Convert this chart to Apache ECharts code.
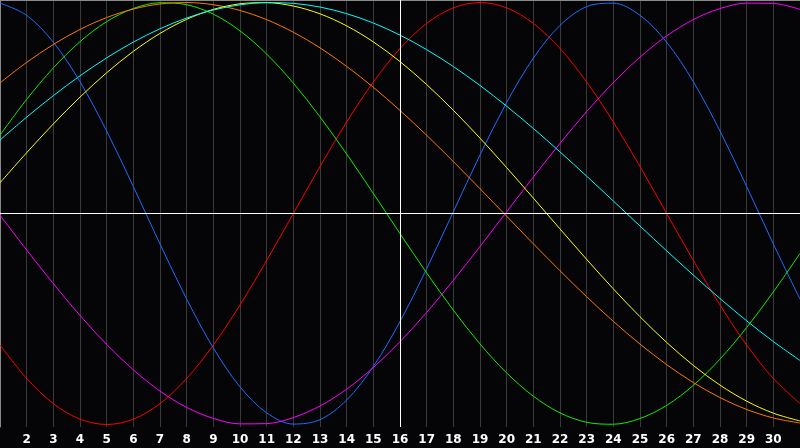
<!DOCTYPE html>
<html>
<head>
<meta charset="utf-8">
<script src="https://cdn.jsdelivr.net/npm/echarts@6/dist/echarts.min.js"></script>
<style>
html,body{margin:0;padding:0;background:#050508;}
#c{width:800px;height:448px;}
</style>
</head>
<body>
<div id="c"></div>
<script>
const days = [1,2,3,4,5,6,7,8,9,10,11,12,13,14,15,16,17,18,19,20,21,22,23,24,25,26,27,28,29,30,31];
const tickLabels = ['', '2','3','4','5','6','7','8','9','10','11','12','13','14','15','16','17','18','19','20','21','22','23','24','25','26','27','28','29','30',''];

const red = [-0.6235,-0.7818,-0.9010,-0.9749,-1.0000,-0.9749,-0.9010,-0.7818,-0.6235,-0.4339,-0.2225,0.0000,0.2225,0.4339,0.6235,0.7818,0.9010,0.9749,1.0000,0.9749,0.9010,0.7818,0.6235,0.4339,0.2225,0.0000,-0.2225,-0.4339,-0.6235,-0.7818,-0.9010];
const blue = [0.9971,0.9395,0.8121,0.6247,0.3909,0.1279,-0.1444,-0.4059,-0.6374,-0.8217,-0.9450,-0.9982,-0.9774,-0.8841,-0.7252,-0.5125,-0.2619,0.0082,0.2777,0.5265,0.7363,0.8917,0.9807,0.9971,0.9395,0.8121,0.6247,0.3909,0.1279,-0.1444,-0.4059];
const magenta = [-0.0082,-0.1728,-0.3325,-0.4831,-0.6207,-0.7412,-0.8417,-0.9190,-0.9714,-0.9972,-0.9959,-0.9673,-0.9125,-0.8327,-0.7299,-0.6077,-0.4687,-0.3169,-0.1564,0.0082,0.1728,0.3325,0.4831,0.6207,0.7412,0.8417,0.9190,0.9714,0.9972,0.9959,0.9673];
const green = [0.3717,0.5406,0.6901,0.8146,0.9096,0.9718,0.9989,0.9898,0.9450,0.8660,0.7557,0.6182,0.4582,0.2817,0.0951,-0.0951,-0.2817,-0.4582,-0.6182,-0.7557,-0.8660,-0.9450,-0.9898,-0.9989,-0.9718,-0.9096,-0.8146,-0.6901,-0.5406,-0.3717,-0.1893];
const orange = [0.6191,0.7163,0.8013,0.8725,0.9288,0.9692,0.9931,0.9999,0.9897,0.9625,0.9188,0.8594,0.7853,0.6972,0.5983,0.4886,0.3706,0.2462,0.1175,-0.0131,-0.1435,-0.2714,-0.3947,-0.5113,-0.6191,-0.7163,-0.8013,-0.8725,-0.9288,-0.9692,-0.9931];
const yellow = [0.1456,0.2881,0.4245,0.5517,0.6672,0.7686,0.8536,0.9204,0.9675,0.9940,0.9993,0.9834,0.9465,0.8894,0.8135,0.7201,0.6111,0.4894,0.3572,0.2174,0.0730,-0.0730,-0.2174,-0.3572,-0.4894,-0.6111,-0.7201,-0.8135,-0.8894,-0.9465,-0.9834];
const cyan = [0.3482,0.4566,0.5586,0.6527,0.7378,0.8126,0.8757,0.9267,0.9646,0.9890,0.9996,0.9961,0.9786,0.9473,0.9028,0.8457,0.7767,0.6966,0.6069,0.5085,0.4031,0.2920,0.1769,0.0593,-0.0593,-0.1769,-0.2920,-0.4031,-0.5085,-0.6069,-0.6966];

const seriesDefs = [
  {name:'red', values: red, color:'#ff0000'},
  {name:'blue', values: blue, color:'#1e6eff'},
  {name:'magenta', values: magenta, color:'#ff00ff'},
  {name:'green', values: green, color:'#11ee00'},
  {name:'orange', values: orange, color:'#ff7700'},
  {name:'yellow', values: yellow, color:'#ffff00'},
  {name:'cyan', values: cyan, color:'#00ffff'}
];

const chart = echarts.init(document.getElementById('c'), null, {renderer:'canvas'});
const series = seriesDefs.map(s => ({
  name: s.name,
  type: 'line',
  xAxisIndex: 0,
  data: days.map((d,i) => [d, s.values[i]]),
  smooth: 0.33,
  symbol: 'none',
  lineStyle: {color: s.color, width: 1},
  z: 3
}));
series.unshift({
  type: 'line',
  data: [],
  xAxisIndex: 0,
  markLine: {
    silent: true,
    symbol: 'none',
    label: {show: false},
    lineStyle: {color: '#ffffff', width: 1, type: 'solid'},
    data: [{yAxis: 0}, {xAxis: 16}]
  },
  z: 2
});

chart.setOption({
  animation: false,
  backgroundColor: '#050508',
  grid: {left: 0, right: 0, top: 0, bottom: 21, containLabel: false},
  xAxis: [{
    type: 'value', min: 1, max: 31, interval: 1,
    axisLine: {show: true, lineStyle: {color: '#8a8a8a', width: 1}},
    axisTick: {show: false},
    splitLine: {show: true, lineStyle: {color: '#3a3a3a', width: 1}},
    axisLabel: {
      color: '#ffffff', fontWeight: 'bold', fontSize: 12,
      fontFamily: 'DejaVu Sans', margin: 7,
      showMinLabel: false, showMaxLabel: false,
      formatter: v => tickLabels[Math.round(v) - 1] || ''
    }
  }, {
    type: 'value', min: 1, max: 31, position: 'top',
    axisLine: {show: true, lineStyle: {color: '#8a8a8a', width: 1}},
    axisTick: {show: false}, axisLabel: {show: false}, splitLine: {show: false}
  }],
  yAxis: {
    type: 'value', min: -1.012, max: 1.012,
    axisLine: {show: true, lineStyle: {color: '#8a8a8a', width: 1}},
    axisTick: {show: false}, axisLabel: {show: false}, splitLine: {show: false}
  },
  series: series
});
</script>
</body>
</html>
